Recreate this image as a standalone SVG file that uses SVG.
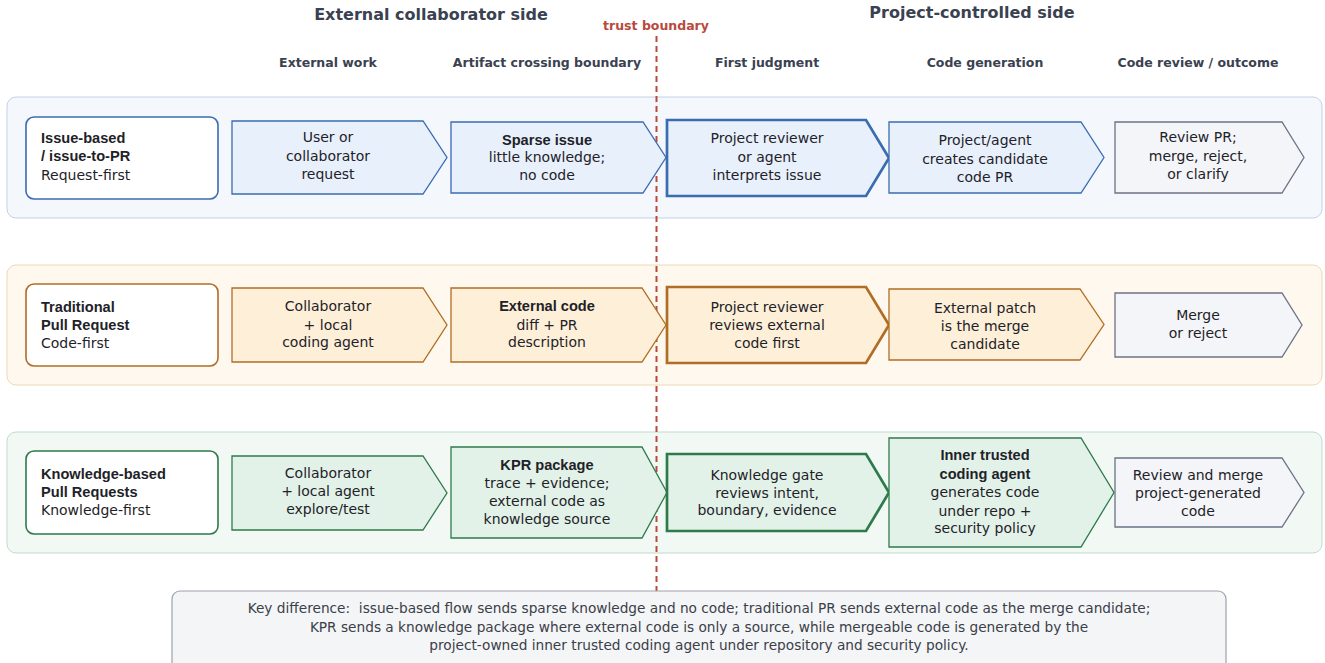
<svg xmlns="http://www.w3.org/2000/svg" width="1325" height="663" viewBox="0 0 1325 663">
<style>
text{font-family:"DejaVu Sans","Liberation Sans",sans-serif;fill:#1e2228;font-size:14px}
.b{font-family:"Liberation Sans","DejaVu Sans",sans-serif;font-weight:bold;font-size:14.6px}
.c{text-anchor:middle}
.hd{font-weight:bold;font-size:16px;fill:#3a4150;text-anchor:middle}
.col{font-weight:bold;font-size:12.5px;fill:#3a4150;text-anchor:middle}
.tb{font-weight:bold;font-size:12.5px;fill:#b84a3c;text-anchor:middle}
.note{font-size:13.7px;fill:#3a4048;text-anchor:middle}
.rowB{fill:#f4f7fc;stroke:#c3d1e6;stroke-width:1}
.rowO{fill:#fff8ef;stroke:#eed8b8;stroke-width:1}
.rowG{fill:#f2f8f4;stroke:#bfdccb;stroke-width:1}
.lblB{fill:#fff;stroke:#3b6cb0;stroke-width:1.6}
.lblO{fill:#fff;stroke:#b06d25;stroke-width:1.6}
.lblG{fill:#fff;stroke:#2e7a4b;stroke-width:1.6}
.aB{fill:#e8f0fc;stroke:#3b6cb0;stroke-width:1.3}
.aO{fill:#fdefd8;stroke:#b06d25;stroke-width:1.3}
.aG{fill:#e3f2e8;stroke:#2e7a4b;stroke-width:1.3}
.aY{fill:#f4f5f8;stroke:#6b7386;stroke-width:1.3}
.thick{stroke-width:2.7}
</style>

<g id="headers">
<text class="hd" x="431" y="20">External collaborator side</text>
<text class="hd" x="972" y="18">Project-controlled side</text>
<text class="tb" x="656" y="30">trust boundary</text>
<text class="col" x="328" y="67">External work</text>
<text class="col" x="547" y="67">Artifact crossing boundary</text>
<text class="col" x="767" y="67">First judgment</text>
<text class="col" x="985" y="67">Code generation</text>
<text class="col" x="1198" y="67">Code review / outcome</text>
</g>

<g id="rows">
<rect class="rowB" x="7" y="97" width="1315" height="121" rx="9"/>
<rect class="rowO" x="7" y="265" width="1315" height="120" rx="9"/>
<rect class="rowG" x="7" y="432" width="1315" height="121" rx="9"/>
</g>

<g id="boundary">
<line x1="656.5" y1="36" x2="656.5" y2="591" stroke="#b84a3c" stroke-width="2" stroke-dasharray="6 4"/>
</g>

<!-- Row 1 -->
<g id="r1-label">
<rect class="lblB" x="26" y="117" width="192" height="82" rx="8"/>
<text x="41" y="143" class="b">Issue-based</text>
<text x="41" y="161" class="b">/ issue-to-PR</text>
<text x="41" y="180">Request-first</text>
</g>
<g id="r1-external">
<polygon class="aB" points="232,121 423,121 447,157.5 423,194 232,194"/>
<text class="c" x="328" y="142">User or</text>
<text class="c" x="328" y="161">collaborator</text>
<text class="c" x="328" y="179">request</text>
</g>
<g id="r1-artifact">
<polygon class="aB" points="451,122 643,122 666,157.5 643,193 451,193"/>
<text class="c b" x="547" y="145">Sparse issue</text>
<text class="c" x="547" y="162">little knowledge;</text>
<text class="c" x="547" y="180">no code</text>
</g>
<g id="r1-judgment">
<polygon class="aB thick" points="667,120 866,120 889,158 866,196 667,196"/>
<text class="c" x="767" y="143">Project reviewer</text>
<text class="c" x="767" y="162">or agent</text>
<text class="c" x="767" y="180">interprets issue</text>
</g>
<g id="r1-generation">
<polygon class="aB" points="889,122 1081,122 1104,157.5 1081,193 889,193"/>
<text class="c" x="985" y="145">Project/agent</text>
<text class="c" x="985" y="164">creates candidate</text>
<text class="c" x="985" y="182">code PR</text>
</g>
<g id="r1-outcome">
<polygon class="aY" points="1115,122 1282,122 1304,157.5 1282,193 1115,193"/>
<text class="c" x="1198" y="142">Review PR;</text>
<text class="c" x="1198" y="161">merge, reject,</text>
<text class="c" x="1198" y="179">or clarify</text>
</g>

<!-- Row 2 -->
<g id="r2-label">
<rect class="lblO" x="26" y="284" width="192" height="82" rx="8"/>
<text x="41" y="312" class="b">Traditional</text>
<text x="41" y="330" class="b">Pull Request</text>
<text x="41" y="348">Code-first</text>
</g>
<g id="r2-external">
<polygon class="aO" points="232,288 423,288 447,325 423,362 232,362"/>
<text class="c" x="328" y="311">Collaborator</text>
<text class="c" x="328" y="330">+ local</text>
<text class="c" x="328" y="347">coding agent</text>
</g>
<g id="r2-artifact">
<polygon class="aO" points="451,288 642,288 666,325 642,362 451,362"/>
<text class="c b" x="547" y="311">External code</text>
<text class="c" x="547" y="330">diff + PR</text>
<text class="c" x="547" y="347">description</text>
</g>
<g id="r2-judgment">
<polygon class="aO thick" points="667,287 866,287 889,325 866,363 667,363"/>
<text class="c" x="767" y="312">Project reviewer</text>
<text class="c" x="767" y="330">reviews external</text>
<text class="c" x="767" y="348">code first</text>
</g>
<g id="r2-generation">
<polygon class="aO" points="889,289 1080,289 1104,324.5 1080,360 889,360"/>
<text class="c" x="985" y="313">External patch</text>
<text class="c" x="985" y="331">is the merge</text>
<text class="c" x="985" y="349">candidate</text>
</g>
<g id="r2-outcome">
<polygon class="aY" points="1115,293 1282,293 1302,325 1282,357 1115,357"/>
<text class="c" x="1198" y="320">Merge</text>
<text class="c" x="1198" y="338">or reject</text>
</g>

<!-- Row 3 -->
<g id="r3-label">
<rect class="lblG" x="26" y="451" width="192" height="83" rx="8"/>
<text x="41" y="479" class="b">Knowledge-based</text>
<text x="41" y="497" class="b">Pull Requests</text>
<text x="41" y="515">Knowledge-first</text>
</g>
<g id="r3-external">
<polygon class="aG" points="232,456 423,456 447,493 423,530 232,530"/>
<text class="c" x="328" y="478">Collaborator</text>
<text class="c" x="328" y="496">+ local agent</text>
<text class="c" x="328" y="514">explore/test</text>
</g>
<g id="r3-artifact">
<polygon class="aG" points="451,447 642,447 667,492.5 642,538 451,538"/>
<text class="c b" x="547" y="470">KPR package</text>
<text class="c" x="547" y="488">trace + evidence;</text>
<text class="c" x="547" y="506">external code as</text>
<text class="c" x="547" y="524">knowledge source</text>
</g>
<g id="r3-judgment">
<polygon class="aG thick" points="667,454 866,454 889,492.5 866,531 667,531"/>
<text class="c" x="767" y="480">Knowledge gate</text>
<text class="c" x="767" y="498">reviews intent,</text>
<text class="c" x="767" y="515">boundary, evidence</text>
</g>
<g id="r3-generation">
<polygon class="aG" points="889,438 1081,438 1114,492.5 1081,547 889,547"/>
<text class="c b" x="985" y="460">Inner trusted</text>
<text class="c b" x="985" y="479">coding agent</text>
<text class="c" x="985" y="497">generates code</text>
<text class="c" x="985" y="516">under repo +</text>
<text class="c" x="985" y="533">security policy</text>
</g>
<g id="r3-outcome">
<polygon class="aY" points="1115,458 1282,458 1304,492.5 1282,527 1115,527"/>
<text class="c" x="1198" y="480">Review and merge</text>
<text class="c" x="1198" y="498">project-generated</text>
<text class="c" x="1198" y="516">code</text>
</g>

<g id="key-note">
<rect x="172" y="591" width="1054" height="90" rx="8" fill="#f4f5f7" stroke="#9ca3ad" stroke-width="1.2"/>
<text class="note" x="699" y="613">Key difference:&#160; issue-based flow sends sparse knowledge and no code; traditional PR sends external code as the merge candidate;</text>
<text class="note" x="699" y="632">KPR sends a knowledge package where external code is only a source, while mergeable code is generated by the</text>
<text class="note" x="699" y="650">project-owned inner trusted coding agent under repository and security policy.</text>
</g>
</svg>
